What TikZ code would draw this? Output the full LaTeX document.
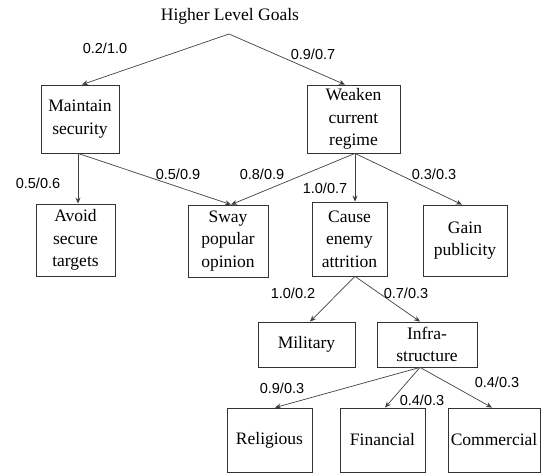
\documentclass[tikz,border=0pt]{standalone}
\usepackage{fontspec}
\setmainfont{Liberation Serif}
\newfontfamily\lblfont{Liberation Sans}
\usetikzlibrary{arrows.meta}

\tikzset{
  goal/.style={draw=black!80, line width=0.8pt, align=center, inner sep=0pt,
    font=\fontsize{17.5}{22.5}\selectfont},
  wt/.style={font=\lblfont\fontsize{14.5}{16}\selectfont, inner sep=0pt},
  link/.style={draw=black!75, line width=0.7pt, -{Stealth[length=6pt,width=5pt]}}
}

\begin{document}
\begin{tikzpicture}[x=1pt, y=-1pt]
\useasboundingbox (0,0) rectangle (541,473);

% Top
\node[font=\fontsize{17.5}{20}\selectfont, inner sep=0pt] (hlg) at (230,16) {Higher Level Goals};
\coordinate (apex) at (229,34);

% Level 1
\node[goal, minimum width=78pt, minimum height=68pt] (maint) at (80,119) {Maintain\\security};
\node[goal, minimum width=93pt, minimum height=68pt] (weaken) at (353.5,119) {Weaken\\current\\regime};

% Level 2
\node[goal, minimum width=79pt, minimum height=72pt] (avoid) at (75.5,240) {Avoid\\secure\\targets};
\node[goal, minimum width=80pt, minimum height=72pt] (sway) at (228,241) {Sway\\popular\\opinion};
\node[goal, minimum width=75pt, minimum height=74pt] (cause) at (349.5,239) {Cause\\enemy\\attrition};
\node[goal, minimum width=84pt, minimum height=71pt] (gain) at (465,240.5) {Gain\\publicity};

% Level 3
\node[goal, minimum width=97pt, minimum height=45pt] (milit) at (306.5,344.5) {Military};
\node[goal, minimum width=100pt, minimum height=45pt] (infra) at (427,344.5) {Infra-\\structure};

% Level 4
\node[goal, minimum width=85pt, minimum height=64pt] (relig) at (269.5,440) {Religious};
\node[goal, minimum width=85pt, minimum height=64pt] (finan) at (382.5,440) {Financial};
\node[goal, minimum width=92pt, minimum height=64pt] (comm) at (494,440) {Commercial};

% Links
\draw[link] (apex) -- ([xshift=2pt]maint.north);
\draw[link] (apex) -- ([xshift=-8.5pt]weaken.north);
\draw[link] ([xshift=-2pt]maint.south) -- ([xshift=2.5pt]avoid.north);
\draw[link] ([xshift=-2pt]maint.south) -- ([xshift=3pt]sway.north);
\draw[link] ([xshift=1.5pt]weaken.south) -- ([xshift=3pt]sway.north);
\draw[link] ([xshift=1.5pt]weaken.south) -- ([xshift=5.5pt]cause.north);
\draw[link] ([xshift=1.5pt]weaken.south) -- ([xshift=-3pt]gain.north);
\draw[link] ([xshift=5.5pt]cause.south) -- ([xshift=3.5pt]milit.north);
\draw[link] ([xshift=5.5pt]cause.south) -- ([xshift=-7pt]infra.north);
\draw[link] ([xshift=-7pt]infra.south) -- ([xshift=5.5pt]relig.north);
\draw[link] ([xshift=-7pt]infra.south) -- ([xshift=2.5pt]finan.north);
\draw[link] ([xshift=-7pt]infra.south) -- ([xshift=-2pt]comm.north);

% Weights
\node[wt] (w1) at (105,48) {0.2/1.0};
\node[wt] (w2) at (313,54) {0.9/0.7};
\node[wt] (w3) at (38,183) {0.5/0.6};
\node[wt] (w4) at (178,174) {0.5/0.9};
\node[wt] (w5) at (262,174) {0.8/0.9};
\node[wt] (w6) at (325,188) {1.0/0.7};
\node[wt] (w7) at (434,174) {0.3/0.3};
\node[wt] (w8) at (293,293) {1.0/0.2};
\node[wt] (w9) at (406,293) {0.7/0.3};
\node[wt] (w10) at (282,388) {0.9/0.3};
\node[wt] (w11) at (422,400) {0.4/0.3};
\node[wt] (w12) at (497,382) {0.4/0.3};

\end{tikzpicture}
\end{document}
